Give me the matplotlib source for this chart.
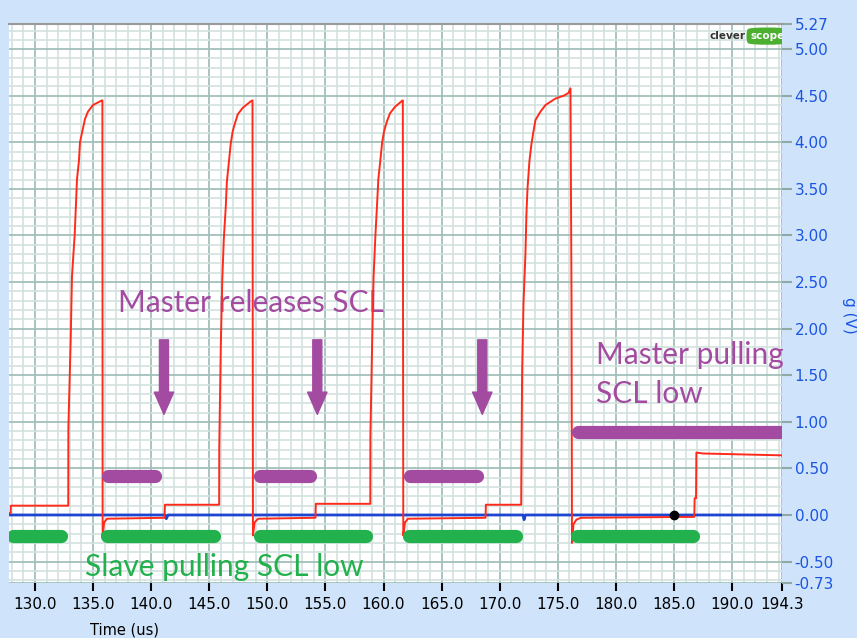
import numpy as np
import matplotlib.pyplot as plt
from matplotlib.ticker import MultipleLocator

# SCL (red) trace, time in us / volts
scl_t = [127.76, 127.90, 127.92, 132.86,
         132.87, 133.07, 133.18, 133.41, 133.53, 133.61, 133.78, 133.87, 134.04,
         134.30, 134.56, 134.99, 135.76, 135.80,
         135.82, 135.95, 136.20, 141.15, 141.18, 145.85,
         145.86, 145.99, 146.12, 146.25, 146.42, 146.51, 146.68, 146.85, 147.02,
         147.20, 147.45, 147.88, 148.57, 148.72,
         148.76, 148.90, 149.20, 154.14, 154.17, 158.86,
         158.87, 159.02, 159.14, 159.30, 159.45, 159.55, 159.72, 159.88, 160.05,
         160.28, 160.55, 160.98, 161.55, 161.66,
         161.70, 161.85, 162.10, 168.78, 168.81, 171.85,
         171.86, 171.93, 172.05, 172.22, 172.30, 172.39, 172.56, 172.73, 172.91,
         173.08, 173.51, 173.94, 174.80, 175.50, 175.92, 176.09,
         176.18, 176.22, 176.35, 176.60, 177.00, 186.75, 186.78, 186.90,
         186.93, 187.50, 194.30]
scl_v = [0.02, 0.02, 0.10, 0.10,
         0.93, 1.88, 2.56, 3.00, 3.35, 3.60, 3.80, 4.00, 4.10,
         4.25, 4.33, 4.40, 4.45, 4.45,
         -0.22, -0.08, -0.04, -0.03, 0.11, 0.11,
         0.73, 1.80, 2.53, 2.96, 3.31, 3.57, 3.78, 3.99, 4.12,
         4.20, 4.30, 4.37, 4.44, 4.45,
         -0.22, -0.08, -0.04, -0.03, 0.12, 0.12,
         0.85, 1.85, 2.55, 3.00, 3.35, 3.60, 3.80, 4.00, 4.12,
         4.22, 4.31, 4.38, 4.44, 4.45,
         -0.22, -0.08, -0.04, -0.03, 0.11, 0.11,
         0.40, 1.54, 2.28, 2.82, 3.23, 3.50, 3.80, 3.98, 4.12,
         4.24, 4.33, 4.40, 4.47, 4.50, 4.53, 4.58,
         2.33, -0.30, -0.10, -0.05, -0.03, -0.02, 0.18, 0.18,
         0.67, 0.66, 0.64]

# SDA / reference (blue) trace
ref_t = [127.76, 141.20, 141.30, 141.45, 172.00, 172.10, 172.20, 194.30]
ref_v = [0.0, 0.0, -0.04, 0.0, 0.0, -0.05, 0.0, 0.0]

# cursor dot
dot_t, dot_v = 185.0, 0.0

# annotation bars (start, end) in us
master_bars = [(135.7, 140.9), (148.8, 154.2), (161.7, 168.6)]
master_hold = (176.2, 195.5)
slave_bars = [(127.5, 132.8), (135.6, 146.0), (148.8, 159.1),
              (161.6, 172.0), (176.1, 187.2)]
arrow_t = [141.1, 154.3, 168.5]

x_ticks = [130, 135, 140, 145, 150, 155, 160, 165, 170, 175, 180, 185, 190, 194.3]
y_ticks = [-0.73, -0.5, 0.0, 0.5, 1.0, 1.5, 2.0, 2.5, 3.0, 3.5, 4.0, 4.5, 5.0, 5.27]

RED = "#ff2a1a"
BLUE = "#1e45d2"
PURPLE = "#a24ba0"
GREEN = "#22b14c"
LABEL_BLUE = "#1a55e3"
BG = "#cfe4fa"

fig = plt.figure(figsize=(8.57, 6.38), dpi=100, facecolor=BG)
W, H = 857, 638
ax = fig.add_axes([9 / W, 1 - 583 / H, (782 - 9) / W, (583 - 24) / H])
ax.set_facecolor("white")
ax.set_xlim(127.76, 194.3)
ax.set_ylim(-0.73, 5.27)

# grid
ax.xaxis.set_minor_locator(MultipleLocator(1))
ax.yaxis.set_minor_locator(MultipleLocator(0.1))
ax.set_xticks(x_ticks)
ax.set_xticklabels([f"{t:.1f}" for t in x_ticks])
ax.set_yticks(y_ticks)
ax.set_yticklabels([f"{v:.2f}" for v in y_ticks])
ax.grid(which="minor", color="#d3e2df", lw=1.2)
ax.grid(which="major", color="#a2bfbb", lw=1.3)
ax.set_axisbelow(True)

ax.yaxis.tick_right()
ax.tick_params(axis="y", which="major", length=7, width=1.5, color="#8fa8a5",
               labelcolor=LABEL_BLUE, labelsize=11, pad=2)
ax.tick_params(axis="x", which="major", length=6, width=1.5, color="black",
               labelcolor="black", labelsize=11, pad=4)
ax.tick_params(which="minor", length=0)
for side in ("left", "right", "bottom"):
    ax.spines[side].set_visible(False)
ax.spines["top"].set_color("#9a9a9a")
ax.spines["top"].set_linewidth(1.5)

# traces
ax.plot(ref_t, ref_v, color=BLUE, lw=2.0, zorder=3)
ax.plot(scl_t, scl_v, color=RED, lw=1.4, zorder=4)
ax.plot([dot_t], [dot_v], "o", color="black", ms=6, zorder=5)

# rounded annotation bars
bar_lw = 9.5
inset = (bar_lw / 72 * 100 / 2) / 11.62  # half cap width in us
for a, b in master_bars:
    ax.plot([a + inset, b - inset], [0.42, 0.42], color=PURPLE, lw=bar_lw,
            solid_capstyle="round", zorder=6)
ax.plot([master_hold[0] + inset, master_hold[1]], [0.89, 0.89], color=PURPLE,
        lw=bar_lw, solid_capstyle="round", zorder=6)
for a, b in slave_bars:
    ax.plot([a + inset, b - inset], [-0.226, -0.226], color=GREEN, lw=bar_lw,
            solid_capstyle="round", zorder=6)

for t in arrow_t:
    ax.annotate("", xy=(t, 1.08), xytext=(t, 1.88),
                arrowprops=dict(arrowstyle="simple,head_length=1.6,head_width=1.4,tail_width=0.65",
                                color=PURPLE, shrinkA=0, shrinkB=0, mutation_scale=10),
                zorder=6)

txt = dict(family="Lato", fontsize=21.5, va="center", ha="left")
ax.text(137.1, 2.28, "Master releases SCL", color=PURPLE, **txt)
ax.text(178.3, 1.72, "Master pulling", color=PURPLE, **txt)
ax.text(178.3, 1.30, "SCL low", color=PURPLE, **txt)
ax.text(134.3, -0.56, "Slave pulling SCL low", color=GREEN, **txt)

# cleverscope logo
ax.text(191.2, 5.14, "clever", color="#333333", fontsize=7.5, fontweight="bold",
        ha="right", va="center", zorder=7)
ax.text(191.55, 5.14, "scope", color="white", fontsize=7.5, fontweight="bold",
        ha="left", va="center", zorder=7, clip_on=True,
        bbox=dict(boxstyle="round4,pad=0.4", fc="#4caf30", ec="none"))

fig.text(125 / W, 1 - 630 / H, "Time (us)", fontsize=10.5, ha="center", va="center")
fig.text(850 / W, 1 - 315 / H, "g (V)", fontsize=11, color=LABEL_BLUE,
         rotation=270, ha="center", va="center")

fig.savefig("out.png", dpi=100, facecolor=BG)
